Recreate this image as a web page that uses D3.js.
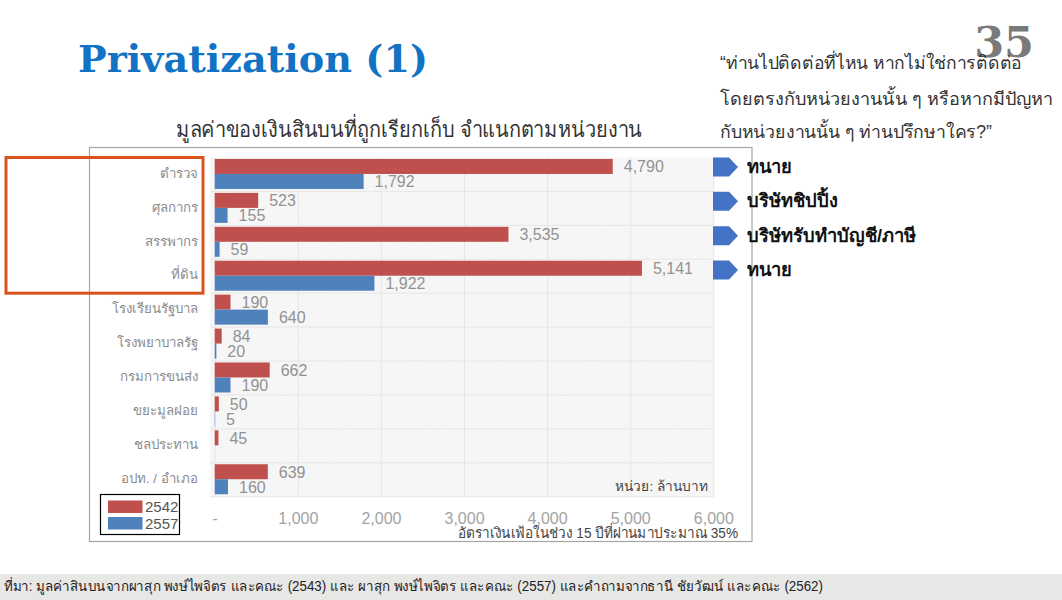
<!DOCTYPE html>
<html>
<head>
<meta charset="utf-8">
<script src="https://cdn.jsdelivr.net/npm/d3@7"></script>
<style>
  html, body { margin: 0; padding: 0; background: #fff; }
  text { font-family: "Liberation Sans", "Noto Sans", "DejaVu Sans", sans-serif; }
</style>
</head>
<body>
<div id="chart"></div>
<script>
// Data
const agencies = ["ตำรวจ", "ศุลกากร", "สรรพากร", "ที่ดิน", "โรงเรียนรัฐบาล", "โรงพยาบาลรัฐ", "กรมการขนส่ง", "ขยะมูลฝอย", "ชลประทาน", "อปท. / อำเภอ"];
const values2542 = [4790, 523, 3535, 5141, 190, 84, 662, 50, 45, 639];
const values2557 = [1792, 155, 59, 1922, 640, 20, 190, 5, null, 160];
const years = ["2542", "2557"];
const xTicks = [0, 1000, 2000, 3000, 4000, 5000, 6000];
const contacts = ["ทนาย", "บริษัทชิปปิ้ง", "บริษัทรับทำบัญชี/ภาษี", "ทนาย"];
const quoteLines = ["“ท่านไปติดต่อที่ไหน หากไม่ใช่การติดต่อ", "โดยตรงกับหน่วยงานนั้น ๆ หรือหากมีปัญหา", "กับหน่วยงานนั้น ๆ ท่านปรึกษาใคร?”"];
const colours = ["#c0504d", "#4f81bd"];

const width = 1062, height = 600;
const svg = d3.select("#chart").append("svg")
    .attr("width", width).attr("height", height)
    .style("display", "block");

// Hatched plot background
const pat = svg.append("defs").append("pattern")
    .attr("id", "hatch").attr("width", 2).attr("height", 2)
    .attr("patternUnits", "userSpaceOnUse")
    .attr("patternTransform", "rotate(45)");
pat.append("rect").attr("width", 2).attr("height", 2).attr("fill", "#fafafa");
pat.append("rect").attr("width", 1).attr("height", 2).attr("fill", "#f2f2f2");

// Scales
const x = d3.scaleLinear().domain([0, 6000]).range([214.7, 713.3]);
const y = d3.scaleBand().domain(agencies).range([157.5, 496.7]);
const rowH = y.bandwidth();

// Frame around the pasted chart
svg.append("rect")
    .attr("x", 89.5).attr("y", 147.5).attr("width", 662.5).attr("height", 394)
    .attr("fill", "#fff").attr("stroke", "#a6a6a6").attr("stroke-width", 1.2);

// Plot background
svg.append("rect")
    .attr("x", 210).attr("y", 157.5).attr("width", x(6000) - 210).attr("height", 339.2)
    .attr("fill", "url(#hatch)");

// Vertical grid and x axis labels
const xAxis = svg.append("g")
    .attr("transform", "translate(0,496.7)")
    .call(d3.axisBottom(x).tickValues(xTicks).tickSize(-339.2).tickPadding(16)
        .tickFormat(d => d === 0 ? "-" : d3.format(",")(d)));
xAxis.select(".domain").remove();
xAxis.selectAll("line").attr("stroke", "#e6e6e6");
xAxis.selectAll("text").attr("fill", "#a3a3a3")
    .style("font-family", "'Liberation Sans'").style("font-size", "16px");

// Horizontal grid and agency labels
const yAxis = svg.append("g")
    .attr("transform", "translate(214.7,-1)")
    .call(d3.axisLeft(y).tickSize(0).tickPadding(17));
yAxis.select(".domain").remove();
yAxis.selectAll("text").attr("fill", "#8c8c8c").style("font-size", "13.3px");
svg.append("g").selectAll("line")
    .data(agencies.slice(1).concat([null]))
    .join("line")
    .attr("x1", 210).attr("x2", x(6000))
    .attr("y1", (d, i) => y.range()[0] + rowH * (i + 1))
    .attr("y2", (d, i) => y.range()[0] + rowH * (i + 1))
    .attr("stroke", "#e6e6e6");

// Bars and value labels
[values2542, values2557].forEach(function(series, s) {
    const barH = 15;
    const top = d => y(d) + rowH / 2 - barH + s * barH - 0.5;
    const rows = agencies.map((a, i) => ({ a: a, v: series[i] })).filter(d => d.v !== null);
    svg.append("g").selectAll("rect")
        .data(rows).join("rect")
        .attr("x", x(0)).attr("y", d => top(d.a))
        .attr("width", d => x(d.v) - x(0)).attr("height", barH)
        .attr("fill", colours[s]);
    svg.append("g").selectAll("text")
        .data(rows).join("text")
        .attr("x", d => x(d.v) + 11).attr("y", d => top(d.a) + barH / 2 + 6)
        .attr("fill", "#929292").style("font-size", "16px")
        .text(d => d3.format(",")(d.v));
});

// Orange highlight on the first four agencies
svg.append("rect")
    .attr("x", 6).attr("y", y(agencies[0]))
    .attr("width", 197).attr("height", rowH * 4)
    .attr("fill", "none").attr("stroke", "#d9531e").attr("stroke-width", 3);

// Arrows pointing to who people contact
const arrowY = d3.scalePoint().domain(d3.range(contacts.length)).range([167, 270]);
const ag = svg.append("g").selectAll("g")
    .data(contacts).join("g")
    .attr("transform", (d, i) => "translate(713," + arrowY(i) + ")");
ag.append("path").attr("d", "M0,-9.5H16L25,0L16,9.5H0Z").attr("fill", "#4472c4");
ag.append("text").attr("x", 34).attr("y", 6)
    .attr("fill", "#111").style("font-size", "18.3px").style("font-weight", "bold")
    .text(d => d);

// Legend
svg.append("rect")
    .attr("x", 100.5).attr("y", 494.5).attr("width", 79).attr("height", 40)
    .attr("fill", "#fff").attr("stroke", "#000").attr("stroke-width", 1.2);
const lg = svg.append("g").selectAll("g")
    .data(years).join("g")
    .attr("transform", (d, i) => "translate(108," + (500.5 + i * 16.5) + ")");
lg.append("rect").attr("width", 34.5).attr("height", 12.5).attr("fill", (d, i) => colours[i]);
lg.append("text").attr("x", 37).attr("y", 11.5)
    .attr("fill", "#555").style("font-size", "15px").text(d => d);

// Unit and inflation notes
svg.append("text").attr("x", 708).attr("y", 491).attr("text-anchor", "end")
    .attr("fill", "#444").style("font-size", "13.7px").text("หน่วย: ล้านบาท");
svg.append("text").attr("x", 458).attr("y", 538)
    .attr("textLength", 280).attr("lengthAdjust", "spacingAndGlyphs")
    .attr("fill", "#444").style("font-size", "14.5px").text("อัตราเงินเฟ้อในช่วง 15 ปีที่ผ่านมาประมาณ 35%");

// Headings
svg.append("text").attr("x", 78).attr("y", 72)
    .attr("textLength", 350).attr("lengthAdjust", "spacingAndGlyphs")
    .style("font-family", "'DejaVu Serif', serif").style("font-weight", "bold").style("font-size", "38px")
    .attr("fill", "#1273c4").text("Privatization (1)");
svg.append("text").attr("x", 1034).attr("y", 57).attr("text-anchor", "end")
    .style("font-family", "'DejaVu Serif', serif").style("font-weight", "bold").style("font-size", "43px")
    .attr("fill", "#7a7a7a").text("35");
svg.append("text").attr("x", 176).attr("y", 137)
    .attr("textLength", 466).attr("lengthAdjust", "spacingAndGlyphs")
    .attr("fill", "#333").style("font-size", "22px").text("มูลค่าของเงินสินบนที่ถูกเรียกเก็บ จำแนกตามหน่วยงาน");

const quoteWidths = [302, 333, 272];
svg.append("g").selectAll("text")
    .data(quoteLines).join("text")
    .attr("x", 720).attr("y", (d, i) => [69, 105, 138][i])
    .attr("textLength", (d, i) => quoteWidths[i]).attr("lengthAdjust", "spacingAndGlyphs")
    .attr("fill", "#333").style("font-size", "18px")
    .text(d => d);

// Source strip
svg.append("rect").attr("x", 0).attr("y", 574).attr("width", width).attr("height", 26).attr("fill", "#e7e7e6");
svg.append("text").attr("x", 4).attr("y", 591)
    .attr("textLength", 819).attr("lengthAdjust", "spacingAndGlyphs")
    .attr("fill", "#222").style("font-size", "14px")
    .text("ที่มา: มูลค่าสินบนจากผาสุก พงษ์ไพจิตร และคณะ (2543) และ ผาสุก พงษ์ไพจิตร และคณะ (2557) และคำถามจากธานี ชัยวัฒน์ และคณะ (2562)");
</script>
</body>
</html>
